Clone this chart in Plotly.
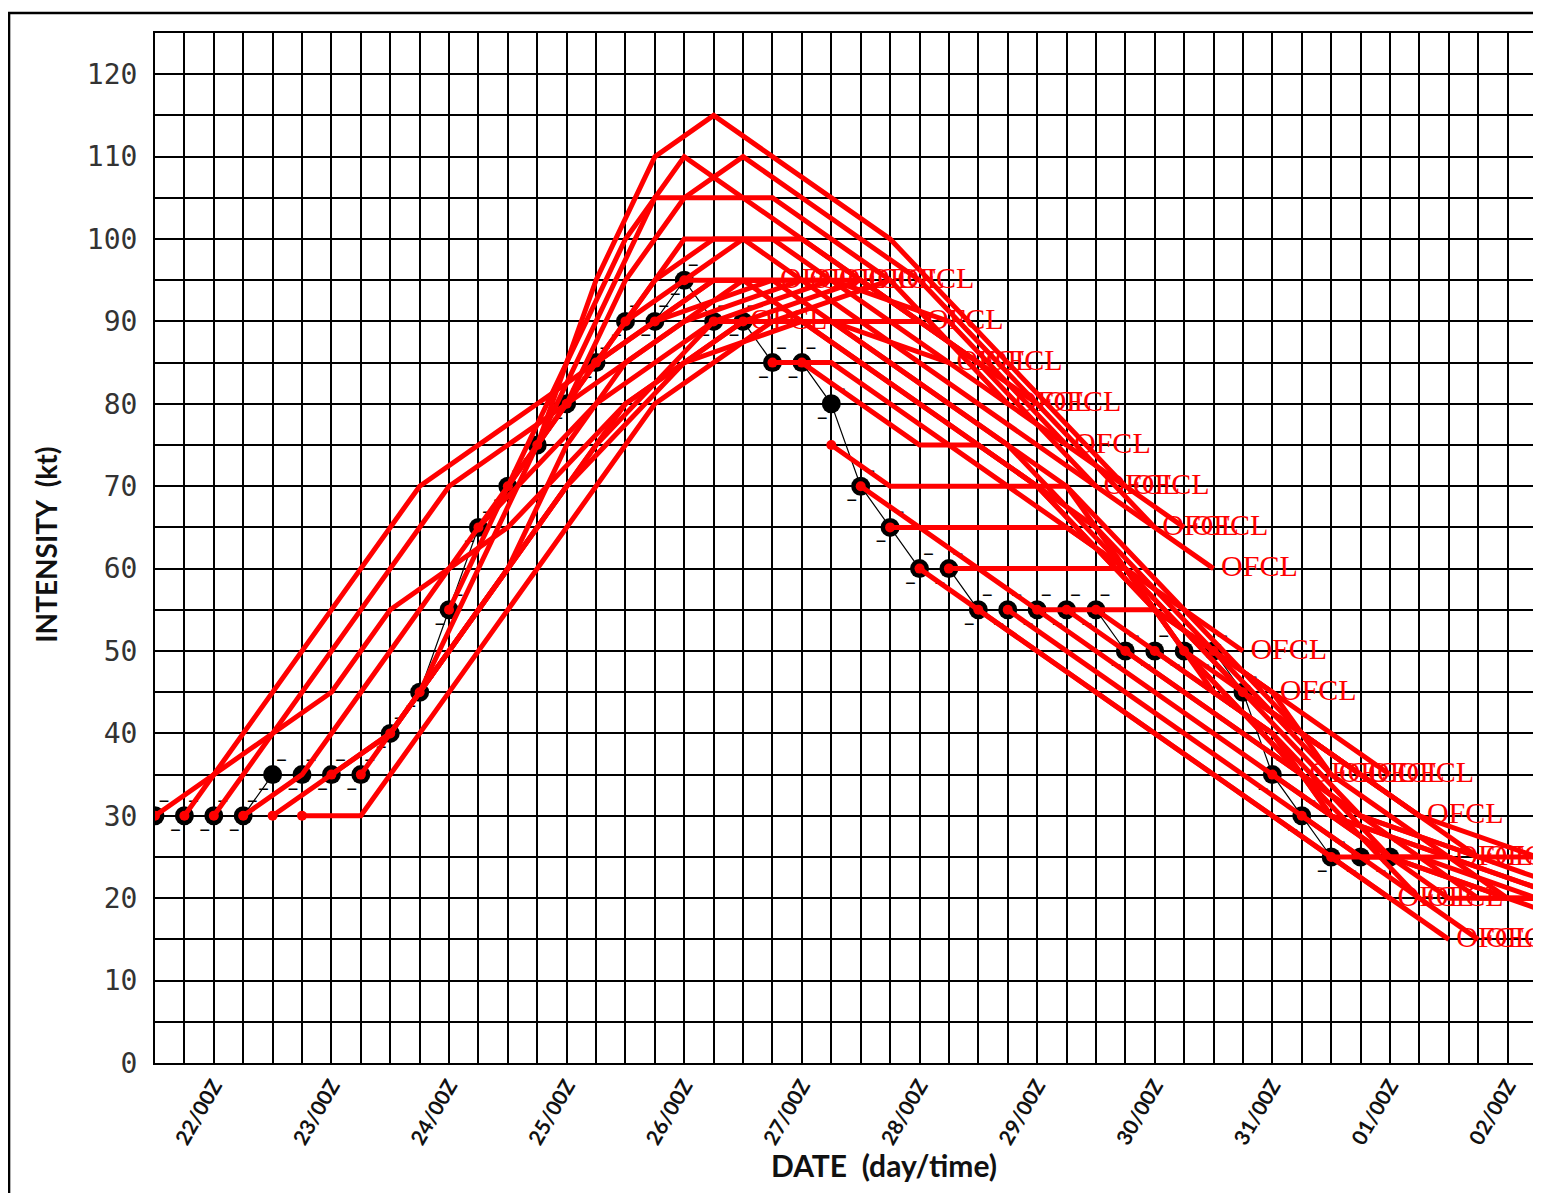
import pandas as pd
import plotly.graph_objects as go

# ---------------- data ----------------
BT_START = "2000-08-21 12:00"          # best track, 6-hourly
BT_INTENSITY = [30, 30, 30, 30, 35, 35, 35, 35, 40, 45,
                55, 65, 70, 75, 80, 85, 90, 90, 95, 90,
                90, 85, 85, 80, 70, 65, 60, 60, 55, 55,
                55, 55, 55, 50, 50, 50, 50, 45, 35, 30,
                25, 25, 25]

FCST_HOURS = [0, 12, 24, 36, 48, 72, 96, 120]
FCST_INIT = [
    "2000-08-21 12:00", "2000-08-21 18:00", "2000-08-22 00:00", "2000-08-22 06:00",
    "2000-08-22 12:00", "2000-08-22 18:00", "2000-08-23 00:00", "2000-08-23 06:00",
    "2000-08-23 12:00", "2000-08-23 18:00", "2000-08-24 00:00", "2000-08-24 06:00",
    "2000-08-24 12:00", "2000-08-24 18:00", "2000-08-25 00:00", "2000-08-25 06:00",
    "2000-08-25 12:00", "2000-08-25 18:00", "2000-08-26 00:00", "2000-08-26 06:00",
    "2000-08-26 12:00", "2000-08-26 18:00", "2000-08-27 00:00", "2000-08-27 06:00",
    "2000-08-27 12:00", "2000-08-27 18:00", "2000-08-28 00:00", "2000-08-28 06:00",
    "2000-08-28 12:00", "2000-08-28 18:00", "2000-08-29 00:00", "2000-08-29 06:00",
    "2000-08-29 12:00", "2000-08-29 18:00", "2000-08-30 00:00", "2000-08-30 06:00",
    "2000-08-30 12:00", "2000-08-30 18:00", "2000-08-31 00:00", "2000-08-31 06:00",
    "2000-08-31 12:00",
]
FCST_INTENSITY = [
    [30, 35, 40, 45, 55, 65, 80, 90],
    [30, 40, 50, 60, 70, 80, 90, 95],
    [30, 40, 50, 60, 70, 80, 90, 95],
    [30, 35, 45, 55, 65, 80, 90, 95],
    [30, 35, 40, 50, 60, 80, 90, 95],
    [30, 30, 40, 50, 60, 80, 90, 95],
    [35, 40, 50, 60, 70, 85, 90, 90],
    [35, 45, 55, 65, 75, 90, 90, 85],
    [40, 50, 60, 75, 85, 95, 95, 85],
    [45, 60, 75, 90, 105, 105, 95, 80],
    [55, 70, 80, 90, 100, 100, 90, 80],
    [65, 75, 85, 90, 95, 95, 90, 75],
    [70, 85, 100, 110, 105, 95, 85, 70],
    [75, 95, 110, 115, 110, 100, 85, 70],
    [80, 95, 105, 110, 105, 95, 80, 65],
    [85, 95, 100, 100, 95, 85, 75, 65],
    [90, 95, 100, 95, 90, 80, 70, 60],
    [90, 95, 95, 90, 85, 75, 60, 50],
    [95, 95, 90, 85, 80, 70, 55, 45],
    [90, 90, 90, 85, 80, 70, 50, 35],
    [90, 90, 85, 80, 75, 65, 50, 35],
    [85, 85, 80, 75, 70, 60, 45, 35],
    [85, 80, 75, 75, 70, 55, 45, 35],
    [75, 70, 70, 70, 70, 55, 40, 30],
    [70, 65, 60, 55, 50, 40, 30, 25],
    [65, 65, 65, 65, 60, 45, 30, 25],
    [60, 55, 50, 45, 40, 30, 20],
    [60, 60, 60, 60, 50, 35, 20],
    [55, 50, 45, 40, 35, 25, 15],
    [55, 50, 45, 40, 35, 25, 15],
    [55, 55, 55, 45, 40, 25, 20, 15],
    [55, 50, 45, 40, 35, 25, 20, 15],
    [55, 50, 45, 40, 30, 25, 20, 15],
    [50, 45, 40, 35, 30, 25, 20, 15],
    [50, 45, 40, 30, 25, 20, 20, 15],
    [50, 45, 40, 35, 30, 25, 20, 15],
    [50, 45, 35, 30, 25, 20, 20, 15],
    [45, 40, 35, 30, 25, 25, 20, 15],
    [35, 30, 25, 25, 20, 20, 15],
    [30, 25, 25, 20, 20, 20, 15],
    [25, 25, 20, 20, 20, 15],
]
FCST_LABEL = " OFCL"
X_RANGE = ["2000-08-21 12:00", "2000-09-02 06:00"]
Y_RANGE = [0, 125]

# ---------------- figure ----------------
RED = "#FF0000"
bt_times = pd.date_range(BT_START, periods=len(BT_INTENSITY), freq="6h")

fig = go.Figure()

# best track
fig.add_trace(go.Scatter(x=bt_times, y=BT_INTENSITY, mode="lines",
                         line=dict(color="black", width=1.2), hoverinfo="skip"))
fig.add_trace(go.Scatter(x=bt_times, y=BT_INTENSITY, mode="markers",
                         marker=dict(symbol="circle", size=19, color="black"),
                         hoverinfo="skip"))
for pos in ["top right", "bottom left"]:
    fig.add_trace(go.Scatter(x=bt_times, y=BT_INTENSITY, mode="markers+text",
                             marker=dict(size=4, color="rgba(0,0,0,0)"),
                             text=["\u2013"] * len(BT_INTENSITY), textposition=pos,
                             textfont=dict(family="DejaVu Sans", size=22, color="black"),
                             hoverinfo="skip"))

# official forecasts
start_x, start_y = [], []
for init, vals in zip(FCST_INIT, FCST_INTENSITY):
    t0 = pd.Timestamp(init)
    xs = [t0 + pd.Timedelta(hours=h) for h in FCST_HOURS[:len(vals)]]
    txt = [""] * (len(vals) - 1) + [FCST_LABEL]
    fig.add_trace(go.Scatter(x=xs, y=vals, mode="lines+text", text=txt,
                             textposition="middle right",
                             textfont=dict(family="Liberation Serif", size=30, color=RED),
                             line=dict(color=RED, width=5), cliponaxis=True,
                             hoverinfo="skip"))
    start_x.append(xs[0])
    start_y.append(vals[0])

fig.add_trace(go.Scatter(x=start_x, y=start_y, mode="markers",
                         marker=dict(size=10, color=RED), hoverinfo="skip"))

grid = dict(showgrid=True, gridcolor="black", gridwidth=1.6)

fig.update_layout(
    template="none",
    width=1531, height=1185,
    margin=dict(l=147, r=2, t=25, b=130),
    paper_bgcolor="white", plot_bgcolor="white",
    showlegend=False,
    xaxis=dict(type="date", range=X_RANGE, tickformat="%d/%HZ",
               dtick=86400000, tick0="2000-08-22 00:00", tickangle=-60,
               tickfont=dict(family="Lato", size=21, color="#111", weight="bold"),
               minor=dict(dtick=21600000, tick0="2000-08-21 12:00", **grid),
               showline=True, linecolor="black", linewidth=2, mirror=True,
               ticks="", zeroline=False, automargin=False, **grid),
    yaxis=dict(range=Y_RANGE, dtick=10, tick0=0,
               tickfont=dict(family="DejaVu Sans Mono", size=28, color="#333"),
               ticklabelstandoff=10,
               minor=dict(dtick=5, tick0=0, **grid),
               showline=True, linecolor="black", linewidth=2, mirror=True,
               ticks="", zeroline=False, automargin=False, **grid),
    annotations=[
        dict(text="DATE&nbsp;&nbsp;(day/time)", xref="paper", yref="paper",
             x=0.5275, y=-0.099, xanchor="center", yanchor="middle", showarrow=False,
             font=dict(family="Lato", size=30, color="#111", weight="bold")),
        dict(text="INTENSITY&nbsp;&nbsp;(kt)", xref="paper", yref="paper",
             x=-0.079, y=0.503, xanchor="center", yanchor="middle", showarrow=False,
             textangle=-90,
             font=dict(family="Lato", size=28, color="#111", weight="bold")),
    ],
    shapes=[dict(type="rect", xref="paper", yref="paper",
                 x0=-0.1056, x1=1.01, y0=-0.145, y1=1.0194,
                 line=dict(color="black", width=2.5), layer="above")],
)

fig.write_html("out.html")
